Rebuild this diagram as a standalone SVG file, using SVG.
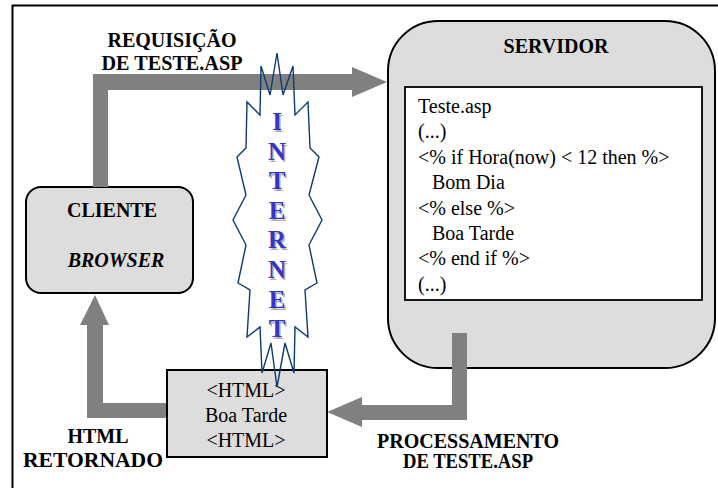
<svg xmlns="http://www.w3.org/2000/svg" width="718" height="488" viewBox="0 0 718 488">
<style>
.frame{fill:#ffffff;stroke:#000;stroke-width:2}
.box{fill:#dddddd;stroke:#000;stroke-width:2}
.white{fill:#ffffff;stroke:#000;stroke-width:1.8}
.arrow{fill:#808080;stroke:none}
text{font-family:'Liberation Serif',serif}
.lbl{font-weight:bold;font-size:20px;fill:#000;text-anchor:middle}
.code{font-size:20px;fill:#000}
.mid{font-size:20px;fill:#000;text-anchor:middle}
.net{font-weight:bold;font-size:25px;text-anchor:middle}
.burst{fill:none;stroke:#0d3a70;stroke-width:1.4;stroke-linejoin:miter}
</style>
<rect class="frame" x="12.5" y="5.5" width="720" height="500"/>

<g id="servidor">
  <rect class="box" x="388" y="21" width="327" height="347" rx="50" ry="50"/>
  <text class="lbl" x="556" y="53">SERVIDOR</text>
  <rect class="white" x="405" y="87" width="297" height="213"/>
  <text class="code" x="418" y="113">Teste.asp</text>
  <text class="code" x="418" y="138">(...)</text>
  <text class="code" x="418" y="164">&lt;% if Hora(now) &lt; 12 then %&gt;</text>
  <text class="code" x="432" y="189">Bom Dia</text>
  <text class="code" x="418" y="215">&lt;% else %&gt;</text>
  <text class="code" x="432" y="240">Boa Tarde</text>
  <text class="code" x="418" y="265">&lt;% end if %&gt;</text>
  <text class="code" x="418" y="291">(...)</text>
</g>

<g id="cliente">
  <rect class="box" x="26" y="187" width="167" height="106" rx="15" ry="15"/>
  <text class="lbl" x="112" y="217">CLIENTE</text>
  <text class="lbl" x="116" y="267" font-style="italic">BROWSER</text>
</g>

<g id="connectors">
  <polygon class="arrow" points="93,187 93,74 352,74 352,67 387,82 352,97 352,90 108,90 108,187"/>
  <polygon class="arrow" points="167,403 103,403 103,325 109,325 95,295 80,325 87,325 87,418 167,418"/>
  <polygon class="arrow" points="452,333 467,333 467,420 362,420 362,427 327,412 362,397 362,405 452,405"/>
</g>

<g id="html">
  <rect class="box" x="167" y="370" width="160" height="87"/>
  <text class="mid" x="246" y="397">&lt;HTML&gt;</text>
  <text class="mid" x="246" y="422">Boa Tarde</text>
  <text class="mid" x="246" y="447">&lt;HTML&gt;</text>
</g>

<g id="internet">
  <polygon class="burst" points="277,53 283,95 293,66 295,115 308,102 310,148 319,157 309,195 322,220 309,245 317,283 305,290 308,337 295,327 294,373 285,343 277,387 271,343 262,373 260,327 247,337 250,290 238,283 246,245 233,220 246,195 237,157 246,148 247,102 260,115 261,66 270,95"/>
  <g fill="#b0b0b0" transform="translate(1.5,1.5)">
    <text class="net" x="277" y="130">I</text>
    <text class="net" x="277" y="160">N</text>
    <text class="net" x="277" y="189">T</text>
    <text class="net" x="277" y="219">E</text>
    <text class="net" x="277" y="248">R</text>
    <text class="net" x="277" y="278">N</text>
    <text class="net" x="277" y="308">E</text>
    <text class="net" x="277" y="337">T</text>
  </g>
  <g fill="#3535c8">
    <text class="net" x="277" y="130">I</text>
    <text class="net" x="277" y="160">N</text>
    <text class="net" x="277" y="189">T</text>
    <text class="net" x="277" y="219">E</text>
    <text class="net" x="277" y="248">R</text>
    <text class="net" x="277" y="278">N</text>
    <text class="net" x="277" y="308">E</text>
    <text class="net" x="277" y="337">T</text>
  </g>
</g>

<g id="labels">
  <text class="lbl" x="172" y="47">REQUISIÇÃO</text>
  <text class="lbl" x="172" y="70" textLength="141" lengthAdjust="spacingAndGlyphs">DE TESTE.ASP</text>
  <text class="lbl" x="98" y="443">HTML</text>
  <text class="lbl" x="93" y="467" textLength="140" lengthAdjust="spacingAndGlyphs">RETORNADO</text>
  <text class="lbl" x="468" y="448" textLength="182" lengthAdjust="spacingAndGlyphs">PROCESSAMENTO</text>
  <text class="lbl" x="468" y="468" textLength="130" lengthAdjust="spacingAndGlyphs">DE TESTE.ASP</text>
</g>
</svg>
